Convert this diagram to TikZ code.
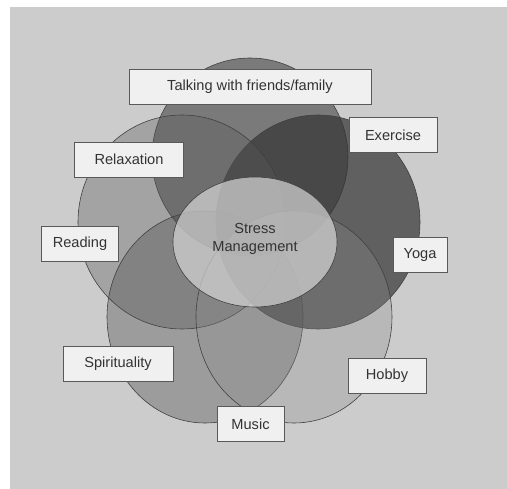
\documentclass[tikz,border=0pt]{standalone}
\usepackage{fontspec}
\setmainfont{Liberation Sans}
\begin{document}
\begin{tikzpicture}[x=1pt, y=-1pt,
    ring/.style 2 args={draw=black!75, line width=0.6pt, fill=black!#1, fill opacity=#2},
    tag/.style={draw=black!65, line width=0.8pt, fill=black!6, text=black!80,
      minimum height=35pt, inner sep=0pt, font=\fontsize{14.6}{18}\selectfont}]
    \useasboundingbox (0,0) rectangle (507,489);
    \fill[white] (0,0) rectangle (507,489);
    \fill[black!20] (10,7) rectangle (507,489);
    % circles
    \draw[ring={84}{0.5}] (250,157) ellipse [x radius=98pt, y radius=99pt];
    \draw[ring={80}{0.7}] (318,222) ellipse [x radius=102pt, y radius=107pt];
    \draw[ring={65}{0.35}] (182,222) ellipse [x radius=104pt, y radius=107pt];
    \draw[ring={73}{0.35}] (205,317) ellipse [x radius=98pt, y radius=106pt];
    \draw[ring={45}{0.3}] (294,317) ellipse [x radius=98pt, y radius=106pt];
    \draw[ring={16}{0.7}] (255,242) ellipse [x radius=82pt, y radius=65pt];
    \node[text=black!80, align=center, font=\fontsize{14.6}{18}\selectfont] (stress) at (255,239) {Stress\\Management};
    % labels
    \node[tag, minimum width=242pt] (talking) at (250,86.5) {Talking with friends/family};
    \node[tag, minimum width=88pt] (exercise) at (393,135) {Exercise};
    \node[tag, minimum width=109pt] (relax) at (129,159.5) {Relaxation};
    \node[tag, minimum width=77pt] (reading) at (80,244) {Reading};
    \node[tag, minimum width=54pt] (yoga) at (420,255) {Yoga};
    \node[tag, minimum width=110pt] (spirit) at (118,363.5) {Spirituality};
    \node[tag, minimum width=78pt] (hobby) at (387,375.5) {Hobby};
    \node[tag, minimum width=67pt] (music) at (250.5,424) {Music};
\end{tikzpicture}
\end{document}
